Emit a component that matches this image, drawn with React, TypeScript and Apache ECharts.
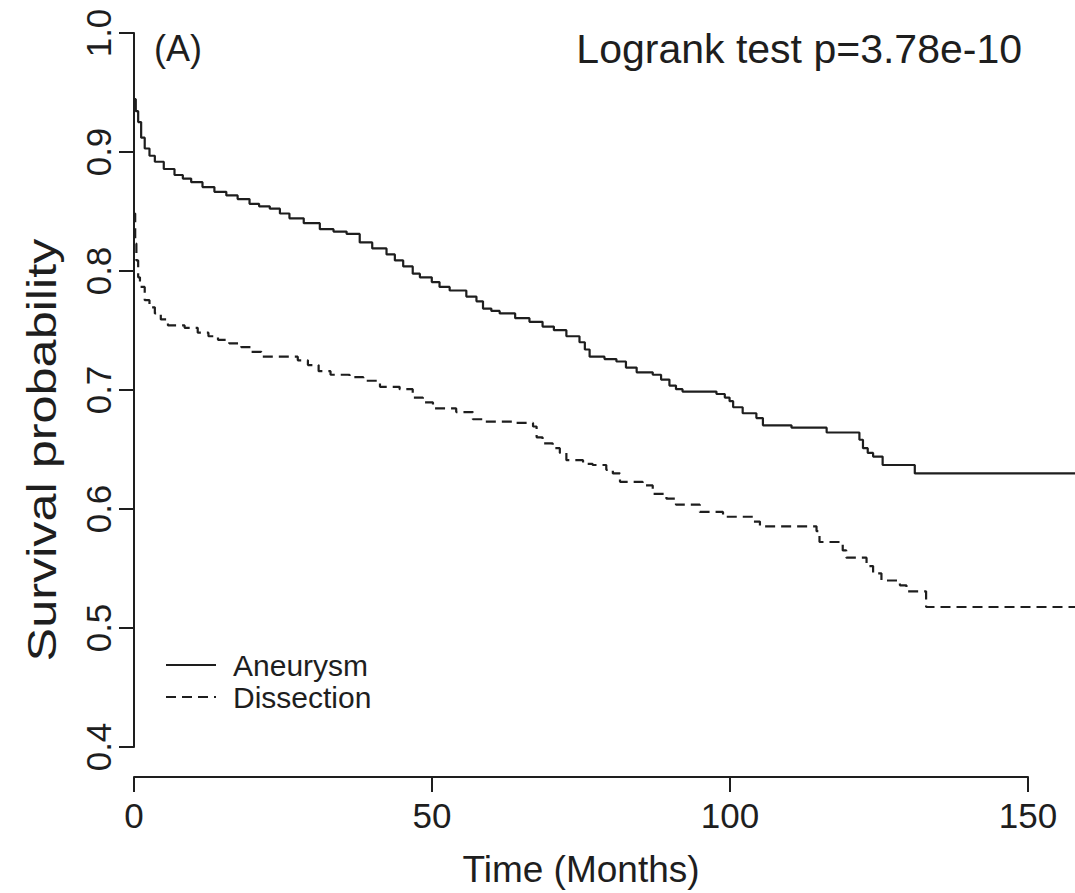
import React, { useEffect, useRef } from "react";
import * as echarts from "echarts";

const seriesNames = ["Aneurysm", "Dissection"];

// Kaplan-Meier steps: [time (months), survival probability after the step]
const aneurysm: [number, number][] = [
  [0, 0.945], [0.3, 0.935], [0.7, 0.926], [1.2, 0.913], [1.8, 0.904], [2.6, 0.898],
  [3.5, 0.893], [5, 0.887], [6.8, 0.882], [8.2, 0.879], [9.6, 0.876], [11.5, 0.872],
  [13.5, 0.868], [15.5, 0.865], [17.4, 0.862], [19.4, 0.858], [21, 0.856], [22.8, 0.854],
  [24.5, 0.85], [26.1, 0.846], [28.5, 0.842], [31.2, 0.837], [33.5, 0.835], [35.7, 0.833],
  [37.9, 0.826], [40, 0.821], [42.4, 0.816], [43.8, 0.811], [45.2, 0.806], [46.8, 0.8],
  [48, 0.797], [50, 0.793], [51.3, 0.789], [53, 0.786], [55.8, 0.781], [57.5, 0.777],
  [58.6, 0.771], [60, 0.769], [61.4, 0.767], [64, 0.763], [66.4, 0.76], [68.6, 0.756],
  [70.5, 0.753], [72.6, 0.748], [74.8, 0.743], [75.7, 0.737], [76.5, 0.731], [79, 0.729],
  [81, 0.727], [82.6, 0.722], [84.4, 0.718], [87.1, 0.716], [88.5, 0.712], [89.9, 0.707],
  [91, 0.704], [92.1, 0.702], [97.8, 0.7], [99.2, 0.697], [100, 0.694], [100.6, 0.689],
  [102.2, 0.684], [104.5, 0.68], [105.6, 0.674], [110.4, 0.672], [116.3, 0.668],
  [121.8, 0.662], [122.4, 0.655], [123.2, 0.651], [124.1, 0.648], [125.7, 0.641],
  [131.1, 0.634], [158, 0.634],
];

const dissection: [number, number][] = [
  [0, 0.85], [0.2, 0.825], [0.4, 0.811], [0.7, 0.797], [1, 0.789], [1.8, 0.778],
  [2.6, 0.772], [3.5, 0.767], [4.5, 0.762], [5.7, 0.757], [8.5, 0.755], [10.7, 0.751],
  [12.5, 0.748], [14.1, 0.745], [16, 0.742], [18, 0.739], [19.7, 0.735], [21.4, 0.731],
  [27.5, 0.728], [29.2, 0.724], [31, 0.719], [33, 0.716], [36.2, 0.714], [38.5, 0.711],
  [41.3, 0.706], [44.6, 0.704], [46.8, 0.697], [48.5, 0.693], [50.2, 0.688], [54.1, 0.685],
  [56.9, 0.679], [58.5, 0.677], [63.6, 0.676], [67, 0.673], [67.6, 0.664], [68.6, 0.659],
  [70.3, 0.655], [71.5, 0.651], [72.6, 0.645], [75.4, 0.642], [77, 0.641], [79.3, 0.637],
  [80.4, 0.634], [81.6, 0.627], [85.4, 0.624], [87.1, 0.617], [89.4, 0.613], [91, 0.608],
  [95, 0.602], [98.9, 0.598], [104, 0.594], [105.1, 0.59], [114.6, 0.586], [115.1, 0.577],
  [119, 0.57], [119.6, 0.564], [123, 0.557], [124.1, 0.551], [125.5, 0.545], [128.6, 0.541],
  [129.7, 0.536], [133, 0.523], [158, 0.523],
];

const xTicks = { min: 0, max: 150, interval: 50 };
const yTicks = { min: 0.4, max: 1.0, interval: 0.1 };
const xDataMax = 158;

const titleText = "Logrank test p=3.78e-10";
const panelLabel = "(A)";
const xAxisTitle = "Time (Months)";
const yAxisTitle = "Survival probability";

const FONT = '"Liberation Sans", Arial, Helvetica, sans-serif';
const INK = "#1e1e1e";

export default function App() {
  const ref = useRef<HTMLDivElement>(null);
  useEffect(() => {
    if (!ref.current) return;
    const chart = echarts.init(ref.current, null, { renderer: "svg" });
    const axisLine = { show: true, lineStyle: { color: INK, width: 2 } };
    chart.setOption({
      animation: false,
      backgroundColor: "#ffffff",
      textStyle: { fontFamily: FONT, color: INK },
      grid: [
        { left: 134, top: 33, width: 894, height: 722 },
        { left: 134, top: 33, right: 0, height: 722 },
      ],
      xAxis: [
        {
          gridIndex: 0,
          type: "value",
          min: xTicks.min,
          max: xTicks.max,
          interval: xTicks.interval,
          offset: 30,
          axisLine,
          axisTick: { show: true, length: 15, inside: false, lineStyle: { color: INK, width: 2 } },
          axisLabel: { fontSize: 35, color: INK, fontFamily: FONT, margin: 21 },
          splitLine: { show: false },
          name: xAxisTitle,
          nameLocation: "middle",
          nameGap: 74,
          nameTextStyle: { fontSize: 37, color: INK, fontFamily: FONT },
        },
        {
          gridIndex: 1,
          type: "value",
          min: 0,
          max: xDataMax,
          show: false,
        },
      ],
      yAxis: [
        {
          gridIndex: 0,
          type: "value",
          min: yTicks.min,
          max: yTicks.max,
          interval: yTicks.interval,
          axisLine,
          axisTick: { show: true, length: 15, inside: false, lineStyle: { color: INK, width: 2 } },
          axisLabel: {
            fontSize: 35,
            color: INK,
            fontFamily: FONT,
            rotate: 90,
            margin: 18,
            formatter: (v: number) => v.toFixed(1),
          },
          splitLine: { show: false },
        },
        {
          gridIndex: 1,
          type: "value",
          min: yTicks.min,
          max: yTicks.max,
          show: false,
        },
      ],
      legend: {
        orient: "vertical",
        left: 160,
        top: 645,
        itemWidth: 50,
        itemHeight: 14,
        itemGap: 2,
        data: seriesNames,
        itemStyle: { opacity: 0, borderWidth: 0 },
        textStyle: { fontSize: 30, color: INK, fontFamily: FONT, lineHeight: 30, padding: [0, 0, 0, 12] },
      },
      graphic: [
        {
          type: "text",
          left: 154,
          top: 30,
          style: { text: panelLabel, fontSize: 36, fill: INK, fontFamily: FONT },
        },
        {
          type: "text",
          right: 53,
          top: 28,
          style: { text: titleText, fontSize: 41, fill: INK, fontFamily: FONT },
        },
        {
          type: "text",
          x: 42,
          y: 450,
          rotation: Math.PI / 2,
          scaleX: 1.26,
          style: {
            text: yAxisTitle,
            fontSize: 40,
            fill: INK,
            fontFamily: FONT,
            align: "center",
            verticalAlign: "middle",
          },
        },
      ],
      series: [
        {
          name: seriesNames[0],
          type: "line",
          xAxisIndex: 1,
          yAxisIndex: 1,
          step: "end",
          showSymbol: false,
          symbol: "none",
          data: aneurysm,
          lineStyle: { color: INK, width: 2.2, type: "solid" },
          itemStyle: { color: INK },
        },
        {
          name: seriesNames[1],
          type: "line",
          xAxisIndex: 1,
          yAxisIndex: 1,
          step: "end",
          showSymbol: false,
          symbol: "none",
          data: dissection,
          lineStyle: { color: INK, width: 2.2, type: [10, 6] },
          itemStyle: { color: INK },
        },
      ],
    });
    return () => chart.dispose();
  }, []);
  return (
    <div
      ref={ref}
      style={{ position: "fixed", left: 0, top: 0, width: 1075, height: 893, background: "#fff" }}
    />
  );
}
